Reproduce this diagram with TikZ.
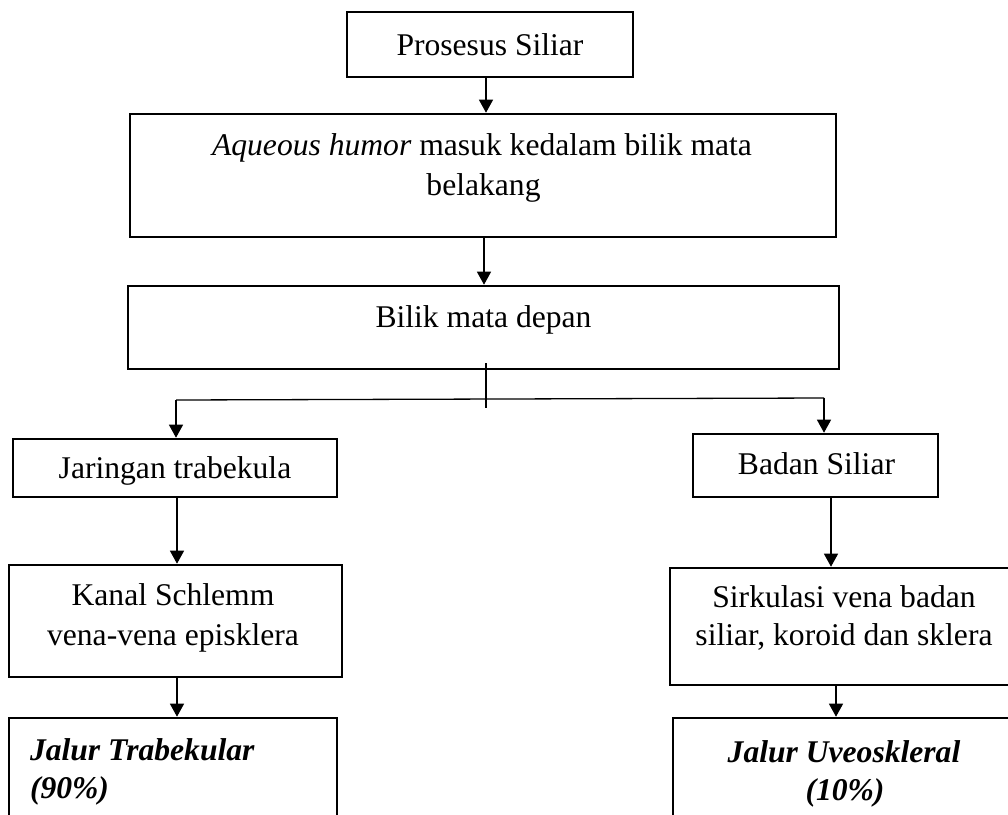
\documentclass[tikz,border=0pt]{standalone}
\usepackage{fontspec}
\setmainfont{Liberation Serif}
\usetikzlibrary{arrows.meta}
\tikzset{
  box/.style={draw=black, line width=2.6pt, inner sep=0pt, fill=none},
  txt/.style={inner sep=0pt, outer sep=0pt, anchor=base, font=\fontsize{31.6}{40}\selectfont},
  conn/.style={draw=black, line width=1.3pt},
  arr/.style={conn, -{Triangle[length=13pt,width=14pt]}}
}
\begin{document}
\begin{tikzpicture}[x=1pt,y=-1pt]
\useasboundingbox (0,0) rectangle (1008,814);
% boxes
\node[box, minimum width=286pt, minimum height=65pt] (pros) at (490,44.5) {};
\node[box, minimum width=706pt, minimum height=123pt] (aq) at (483,175.5) {};
\node[box, minimum width=711pt, minimum height=83pt] (bil) at (483.5,327.5) {};
\node[box, minimum width=324pt, minimum height=58pt] (jar) at (175,468) {};
\node[box, minimum width=333pt, minimum height=112pt] (kan) at (175.5,621) {};
\node[box, minimum width=328pt, minimum height=122pt] (jt) at (173,779) {};
\node[box, minimum width=245pt, minimum height=63pt] (bad) at (815.5,465.5) {};
\node[box, minimum width=348pt, minimum height=117pt] (sir) at (844,626.5) {};
\node[box, minimum width=342pt, minimum height=122pt] (ju) at (844,779) {};
% texts
\node[txt] (tpros) at (490,55) {Prosesus Siliar};
\node[txt] (taq1) at (482,155) {\textit{Aqueous humor} masuk kedalam bilik mata};
\node[txt] (taq2) at (483.5,195) {belakang};
\node[txt] (tbil) at (483.5,327) {Bilik mata depan};
\node[txt] (tjar) at (175,478) {Jaringan trabekula};
\node[txt] (tkan1) at (173,605) {Kanal Schlemm};
\node[txt] (tkan2) at (173,645) {vena-vena episklera};
\node[txt, anchor=base west] (tjt1) at (30,760) {\textbf{\textit{Jalur Trabekular}}};
\node[txt, anchor=base west] (tjt2) at (30,798) {\textbf{\textit{(90\%)}}};
\node[txt] (tbad) at (816.5,474) {Badan Siliar};
\node[txt] (tsir1) at (844,607) {Sirkulasi vena badan};
\node[txt] (tsir2) at (844,645) {siliar, koroid dan sklera};
\node[txt] (tju1) at (844,762) {\textbf{\textit{Jalur Uveoskleral}}};
\node[txt] (tju2) at (845,800) {\textbf{\textit{(10\%)}}};
% connectors
\draw[arr] ([xshift=-4pt]pros.south) -- ([xshift=-4pt]pros.south |- aq.north);
\draw[arr] ([xshift=1pt]aq.south) -- ([xshift=1pt]aq.south |- bil.north);
\coordinate (sv1) at (486,363);
\coordinate (sv2) at (486,408);
\coordinate (hl) at (176,400);
\coordinate (hr) at (824,398);
\draw[conn] (sv1) -- (sv2);
\draw[conn] (hl) -- (hr);
\draw[arr] (hl) -- (hl |- jar.north);
\draw[arr] (hr) -- (hr |- bad.north);
\draw[arr] ([xshift=2pt]jar.south) -- ([xshift=2pt]jar.south |- kan.north);
\draw[arr] ([xshift=1.5pt]kan.south) -- ([xshift=1.5pt]kan.south |- jt.north);
\draw[arr] ([xshift=15.5pt]bad.south) -- ([xshift=15.5pt]bad.south |- sir.north);
\draw[arr] ([xshift=-8pt]sir.south) -- ([xshift=-8pt]sir.south |- ju.north);
\end{tikzpicture}
\end{document}
